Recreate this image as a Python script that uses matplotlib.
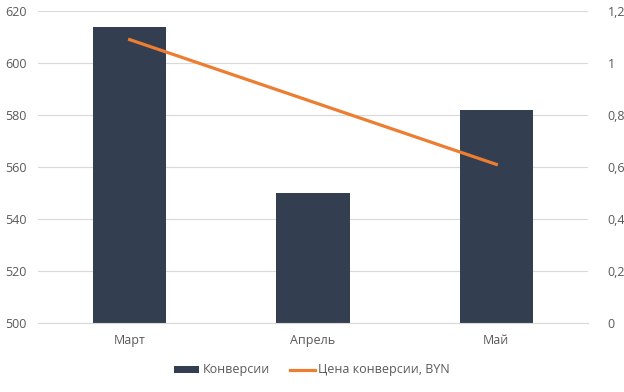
import matplotlib
matplotlib.use("Agg")
import matplotlib.pyplot as plt
from matplotlib.ticker import FuncFormatter

months = ["Март", "Апрель", "Май"]
conversions = [614, 550, 582]
cost_byn = [1.09, 0.85, 0.61]

plt.rcParams['font.family'] = ['Open Sans', 'DejaVu Sans']
txt = '#595959'
fig = plt.figure(figsize=(6.24, 3.92), dpi=100)
ax = fig.add_axes([38/624, 1-323/392, (588-38)/624, (323-11)/392])
x = range(len(months))
ax.bar(x, conversions, width=0.4, color='#333F50', label='Конверсии', zorder=2)
ax.set_ylim(500, 620)
ax.set_yticks(range(500, 621, 20))
ax.set_xlim(-0.5, 2.5)
ax.set_xticks(list(x))
ax.set_xticklabels(months)
ax.grid(axis='y', color='#D9D9D9', linewidth=0.8, zorder=0)
for s in ax.spines.values():
    s.set_visible(False)
ax.spines['bottom'].set_visible(True)
ax.spines['bottom'].set_color('#D9D9D9')
ax.tick_params(length=0, colors=txt, labelsize=9)
ax.tick_params(axis='y', pad=8)
ax.tick_params(axis='x', pad=8)

ax2 = ax.twinx()
ax2.plot(list(x), cost_byn, color='#ED7D31', linewidth=2.3, label='Цена конверсии, BYN', zorder=3)
ax2.set_ylim(0, 1.2)
ax2.set_yticks([0, 0.2, 0.4, 0.6, 0.8, 1.0, 1.2])
ax2.yaxis.set_major_formatter(FuncFormatter(lambda v, p: ('%g' % round(v, 1)).replace('.', ',')))
for s in ax2.spines.values():
    s.set_visible(False)
ax2.tick_params(length=0, colors=txt, labelsize=9, pad=14)

h1, l1 = ax.get_legend_handles_labels()
h2, l2 = ax2.get_legend_handles_labels()
fig.legend(h1 + h2, l1 + l2, loc='center', bbox_to_anchor=(0.5, 1-370/392), ncol=2,
           frameon=False, fontsize=9, labelcolor=txt, handlelength=2.0, handleheight=0.5,
           handletextpad=0.3, columnspacing=1.6)
fig.savefig('out.png', dpi=100)
